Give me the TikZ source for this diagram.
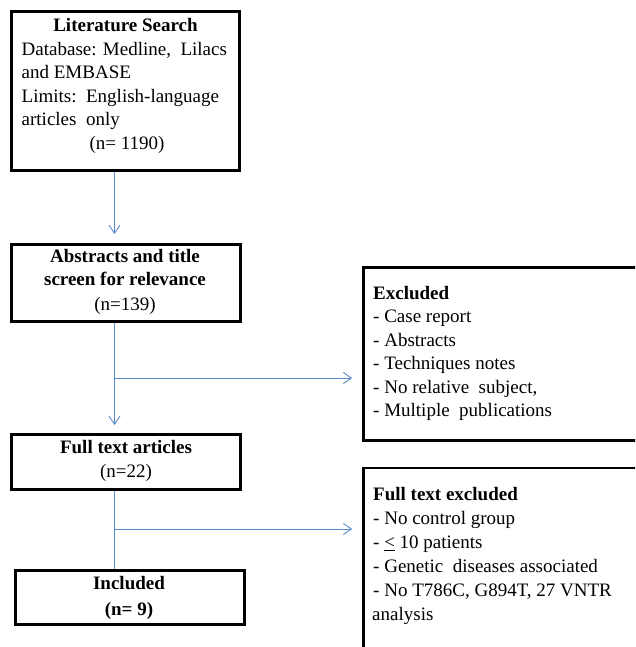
\documentclass[tikz,border=0pt]{standalone}
\usepackage{fontspec}
\setmainfont{Liberation Serif}
\usetikzlibrary{arrows.meta}
\definecolor{linkblue}{RGB}{88,138,204}
\tikzset{
  box/.style={draw=black, line width=2.6pt, rectangle, inner sep=0pt},
  txt/.style={inner sep=0pt, font=\fontsize{19}{23.5}\selectfont},
  ltxt/.style={txt, anchor=mid west},
  ctxt/.style={txt, anchor=mid},
  conn/.style={draw=linkblue, line width=0.9pt},
  arr/.style={conn, -{Straight Barb[length=8pt,width=11pt,line width=0.9pt]}}
}
\begin{document}
\begin{tikzpicture}[x=1pt,y=-1pt]
\useasboundingbox (0,0) rectangle (635,647);
\clip (0,0) rectangle (635,647);
\fill[white] (0,0) rectangle (635,647);

% boxes
\node[box, minimum width=228pt, minimum height=159pt] (b1) at (125.5,91) {};
\node[box, minimum width=229pt, minimum height=77pt] (b2) at (126,283) {};
\node[box, minimum width=296.5pt, minimum height=173pt] (ex) at (511.75,354) {};
\node[box, minimum width=229pt, minimum height=55pt] (b3) at (126,462) {};
\node[box, minimum width=229pt, minimum height=54pt] (b4) at (130,597.5) {};
\node[box, minimum width=296.5pt, minimum height=181pt] (fx) at (511.75,558.5) {};

% box 1 text
\node[ctxt] (b1t) at (125.5,29.5) {\textbf{Literature Search}};
\node[ltxt] (b1a) at (21.5,53) {Database: Medline,\ \ Lilacs};
\node[ltxt] (b1b) at (21.5,76.5) {and EMBASE};
\node[ltxt] (b1c) at (21.5,100) {Limits:\ \ English-language};
\node[ltxt] (b1d) at (21.5,123.5) {articles\ \ only};
\node[ctxt] (b1n) at (127,147) {(n= 1190)};

% box 2 text
\node[ctxt] (b2t) at (125,260) {\textbf{Abstracts and title}};
\node[ctxt] (b2u) at (125,283.5) {\textbf{screen for relevance}};
\node[ctxt] (b2n) at (125,308) {(n=139)};

% excluded
\node[ltxt] (ext) at (373,297) {\textbf{Excluded}};
\node[ltxt] (exa) at (373,320.5) {- Case report};
\node[ltxt] (exb) at (373,344) {- Abstracts};
\node[ltxt] (exc) at (373,367.5) {- Techniques notes};
\node[ltxt] (exd) at (373,391) {- No relative\ \ subject,};
\node[ltxt] (exe) at (373,414.5) {- Multiple\ \ publications};

% box 3 text
\node[ctxt] (b3t) at (126,451) {\textbf{Full text articles}};
\node[ctxt] (b3n) at (126,475) {(n=22)};

% box 4 text
\node[ctxt] (b4t) at (129,587) {\textbf{Included}};
\node[ctxt] (b4n) at (129,613) {\textbf{(n= 9)}};

% full text excluded
\node[ltxt] (fxt) at (373,498) {\textbf{Full text excluded}};
\node[ltxt] (fxa) at (373,522) {- No control group};
\node[ltxt] (fxb) at (373,546) {- \underline{<} 10 patients};
\node[ltxt] (fxc) at (373,570) {- Genetic\ \ diseases associated};
\node[ltxt] (fxd) at (373,594.5) {- No T786C, G894T, 27 VNTR};
\node[ltxt] (fxe) at (372,618) {analysis};

% connectors
\coordinate (t1) at (114.5,234);
\coordinate (t2) at (114.5,425);
\coordinate (j1) at (114.5,378);
\coordinate (j2) at (114.5,529);

\draw[arr] (b1.south -| t1) -- (t1);
\draw[arr] (b2.south -| t2) -- (t2);
\draw[arr] (j1) -- ([xshift=-10pt]ex.west |- j1);
\draw[conn] (b3.south -| j2) -- (b4.north -| j2);
\draw[arr] (j2) -- ([xshift=-10pt]fx.west |- j2);
\end{tikzpicture}
\end{document}
